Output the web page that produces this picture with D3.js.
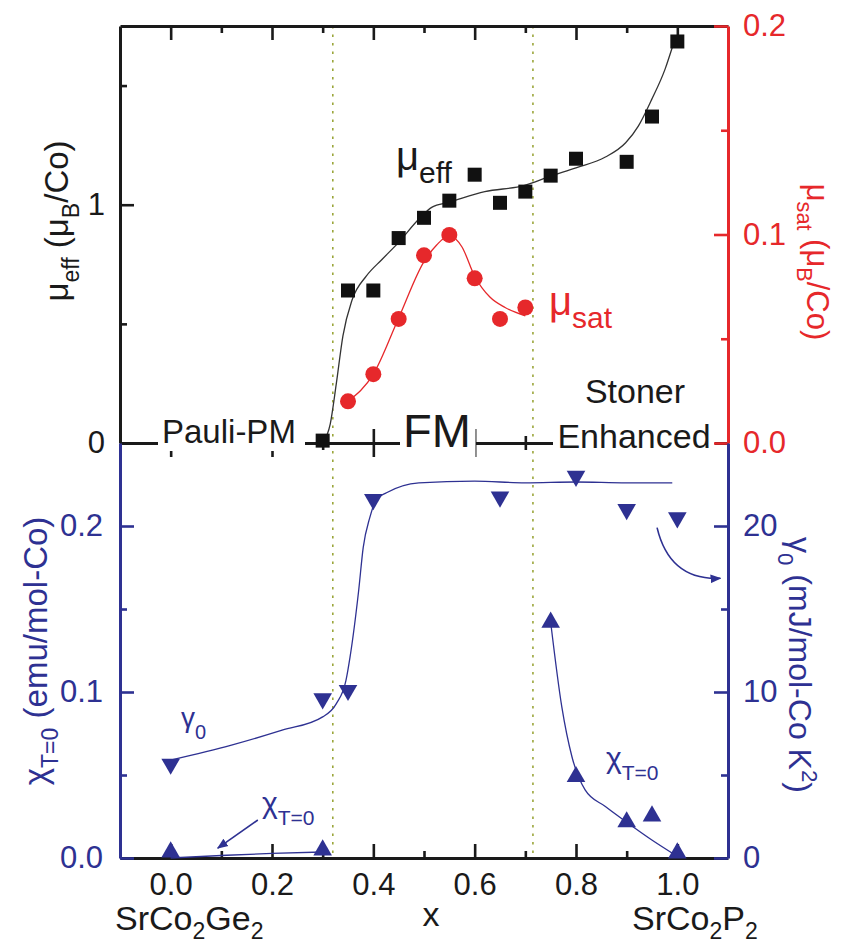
<!DOCTYPE html>
<html>
<head>
<meta charset="utf-8">
<script src="https://cdn.jsdelivr.net/npm/d3@7"></script>
<style>
body { margin: 0; background: #fff; }
text { font-family: "Liberation Sans", Arial, sans-serif; }
</style>
</head>
<body>
<svg id="chart" width="841" height="948"></svg>
<script>
// ---- data ----
// mu_eff (black squares), left axis of top panel
const effX = [0.3, 0.35, 0.4, 0.45, 0.5, 0.55, 0.6, 0.65, 0.7, 0.75, 0.8, 0.9, 0.95, 1.0];
const effY = [0.01, 0.64, 0.64, 0.86, 0.945, 1.017, 1.126, 1.008, 1.055, 1.122, 1.193, 1.18, 1.37, 1.685];
// guide line through mu_eff
const effFitX = [0.3, 0.315, 0.327, 0.34, 0.358, 0.386, 0.417, 0.449, 0.49, 0.516, 0.549, 0.62, 0.697, 0.75, 0.8, 0.858, 0.898, 0.923, 0.949, 0.976, 0.99];
const effFitY = [0.0, 0.08, 0.25, 0.45, 0.60, 0.70, 0.77, 0.84, 0.94, 0.99, 1.01, 1.055, 1.08, 1.12, 1.155, 1.20, 1.26, 1.33, 1.44, 1.57, 1.66];

// mu_sat (red circles), right axis of top panel
const satX = [0.35, 0.4, 0.45, 0.5, 0.55, 0.6, 0.65, 0.7];
const satY = [0.020, 0.033, 0.0595, 0.090, 0.0998, 0.079, 0.0595, 0.065];
const satFitX = [0.35, 0.4, 0.45, 0.5, 0.525, 0.55, 0.575, 0.6, 0.63, 0.66, 0.7];
const satFitY = [0.020, 0.033, 0.060, 0.087, 0.095, 0.0995, 0.094, 0.080, 0.070, 0.065, 0.061];

// gamma_0 (down triangles), right axis of bottom panel
const gamX = [0.0, 0.3, 0.35, 0.4, 0.65, 0.8, 0.9, 1.0];
const gamY = [5.66, 9.6, 10.1, 21.6, 21.75, 23.0, 21.0, 20.5];
const gamFitX = [0.0, 0.12, 0.22, 0.30, 0.327, 0.346, 0.354, 0.371, 0.38, 0.393, 0.406, 0.426, 0.49, 0.6, 0.7, 0.8, 0.9, 0.99];
const gamFitY = [5.9, 6.8, 7.7, 8.5, 9.3, 10.7, 12.1, 16.1, 18.7, 20.5, 21.6, 22.0, 22.6, 22.7, 22.6, 22.65, 22.6, 22.6];

// chi_T=0 (up triangles), left axis of bottom panel
const chiX = [0.0, 0.3, 0.75, 0.8, 0.9, 0.95, 1.0];
const chiY = [0.0036, 0.0048, 0.142, 0.049, 0.0217, 0.0253, 0.0030];
const chiFitLowX = [0.0, 0.1, 0.2, 0.3];
const chiFitLowY = [0.0, 0.0015, 0.0028, 0.0036];
const chiFitHighX = [0.75, 0.772, 0.792, 0.818, 0.858, 0.898, 0.949, 1.0];
const chiFitHighY = [0.142, 0.091, 0.061, 0.041, 0.031, 0.022, 0.011, 0.001];

// phase boundaries (dotted lines)
const boundaries = [0.32, 0.715];

// ticks
const xMajor = [0, 0.2, 0.4, 0.6, 0.8, 1.0];
const xMinor = [0.1, 0.3, 0.5, 0.7, 0.9];
const effMajor = [0, 1], effMinor = [0.5, 1.5];
const satMajor = [0, 0.1, 0.2], satMinor = [0.05, 0.15];
const chiMajor = [0, 0.1, 0.2], chiMinor = [0.05, 0.15];
const gamMajor = [0, 10, 20], gamMinor = [5, 15];

// ---- layout ----
const L = 120, R = 728, T = 26, M = 443, B = 858;
const BLACK = "#1a1a1a", RED = "#e6282b", BLUE = "#2e3192", OLIVE = "#9aa63a";

const svg = d3.select("#chart");
const x = d3.scaleLinear([-0.1, 1.1], [L, R]);
const yEff = d3.scaleLinear([0, 1.75], [M, T]);
const ySat = d3.scaleLinear([0, 0.2], [M, T]);
const yChi = d3.scaleLinear([0, 0.25], [B, M]);
const yGam = d3.scaleLinear([0, 25], [B, M]);

function styleAxis(g, color, fs) {
  g.select(".domain").attr("stroke", color).attr("stroke-width", 3);
  g.selectAll(".tick line").attr("stroke", color).attr("stroke-width", 2.6);
  g.selectAll(".tick text").attr("fill", color).style("font-size", fs + "px")
    .style("font-family", "Liberation Sans, Arial, sans-serif");
}

function addAxis(axisFn, scale, major, minor, tx, ty, color, fmt, pad) {
  const g = svg.append("g").attr("transform", `translate(${tx},${ty})`);
  g.call(axisFn(scale).tickValues(minor).tickSize(-7).tickSizeOuter(0).tickFormat(""));
  g.select(".domain").remove();
  g.selectAll(".tick line").attr("stroke", color).attr("stroke-width", 2.6);
  const g2 = svg.append("g").attr("transform", `translate(${tx},${ty})`);
  g2.call(axisFn(scale).tickValues(major).tickSize(-14).tickSizeOuter(0)
    .tickPadding(pad || 14).tickFormat(fmt || ""));
  styleAxis(g2, color, 31);
  return g2;
}

// dotted phase boundaries
svg.append("g").selectAll("line").data(boundaries).join("line")
  .attr("x1", d => x(d)).attr("x2", d => x(d)).attr("y1", T).attr("y2", B)
  .attr("stroke", OLIVE).attr("stroke-width", 1.6).attr("stroke-dasharray", "2.5,6");

// x axes
addAxis(d3.axisTop, x, xMajor, xMinor, 0, T, BLACK);       // top of upper panel (ticks point down)
addAxis(d3.axisBottom, x, xMajor, xMinor, 0, M, BLACK);    // bottom of upper panel
addAxis(d3.axisTop, x, xMajor, xMinor, 0, M, BLACK);       // top of lower panel
addAxis(d3.axisBottom, x, xMajor, xMinor, 0, B, BLACK, d3.format(".1f"), 15);

// text boxes sitting on the middle axis
const phaseBoxes = [[158, 305, 415, 451], [400, 475.5, 410, 458], [553, 715, 415, 458]];
svg.append("g").selectAll("rect").data(phaseBoxes).join("rect")
  .attr("x", d => d[0]).attr("width", d => d[1] - d[0])
  .attr("y", d => d[2]).attr("height", d => d[3] - d[2]).attr("fill", "#fff");

// y axes
addAxis(d3.axisLeft, yEff, effMajor, effMinor, L, 0, BLACK, d3.format("d"), 15);
addAxis(d3.axisRight, ySat, satMajor, satMinor, R, 0, RED, d3.format(".1f"), 15);
addAxis(d3.axisLeft, yChi, chiMajor, chiMinor, L, 0, BLUE, d3.format(".1f"), 17);
addAxis(d3.axisRight, yGam, gamMajor, gamMinor, R, 0, BLUE, d3.format("d"), 15);

// ---- fit lines ----
const line = d3.line().curve(d3.curveMonotoneX);
function fit(xs, ys, yScale, color) {
  svg.append("path")
    .attr("d", line(xs.map((v, i) => [x(v), yScale(ys[i])])))
    .attr("fill", "none").attr("stroke", color).attr("stroke-width", 1.3);
}
fit(effFitX, effFitY, yEff, "#333");
fit(satFitX, satFitY, ySat, RED);
fit(gamFitX, gamFitY, yGam, BLUE);
fit(chiFitLowX, chiFitLowY, yChi, BLUE);
fit(chiFitHighX, chiFitHighY, yChi, BLUE);

// ---- markers ----
svg.append("g").selectAll("rect").data(effX).join("rect")
  .attr("x", d => x(d) - 7).attr("y", (d, i) => yEff(effY[i]) - 7)
  .attr("width", 14).attr("height", 14).attr("fill", "#111");

svg.append("g").selectAll("circle").data(satX).join("circle")
  .attr("cx", d => x(d)).attr("cy", (d, i) => ySat(satY[i])).attr("r", 8)
  .attr("fill", RED);

const tri = d3.symbol().type(d3.symbolTriangle).size(150);
svg.append("g").selectAll("path").data(gamX).join("path")
  .attr("d", tri)
  .attr("transform", (d, i) => `translate(${x(d)},${yGam(gamY[i])}) rotate(180)`)
  .attr("fill", BLUE);
svg.append("g").selectAll("path").data(chiX).join("path")
  .attr("d", tri)
  .attr("transform", (d, i) => `translate(${x(d)},${yChi(chiY[i])})`)
  .attr("fill", BLUE);

// ---- arrows ----
const defs = svg.append("defs");
defs.append("marker").attr("id", "head").attr("viewBox", "0 0 10 10")
  .attr("refX", 9).attr("refY", 5).attr("markerWidth", 11).attr("markerHeight", 11)
  .attr("markerUnits", "userSpaceOnUse").attr("orient", "auto")
  .append("path").attr("d", "M0,1 L10,5 L0,9 Z").attr("fill", BLUE);

svg.append("path")
  .attr("d", `M${x(0.172)},${yChi(0.0229)} L${x(0.093)},${yChi(0.006)}`)
  .attr("stroke", BLUE).attr("stroke-width", 1.6).attr("fill", "none")
  .attr("marker-end", "url(#head)");
svg.append("path")
  .attr("d", `M${x(0.96)},${yGam(19.9)} Q${x(0.985)},${yGam(16.7)} ${x(1.085)},${yGam(16.85)}`)
  .attr("stroke", BLUE).attr("stroke-width", 1.6).attr("fill", "none")
  .attr("marker-end", "url(#head)");

// ---- text helpers ----
function rich(sel, parts, size) {
  let off = 0;
  parts.forEach(p => {
    const [t, kind, s, shift] = p;
    const target = kind === "sub" ? (shift || size * 0.33) : kind === "sup" ? -size * 0.4 : 0;
    sel.append("tspan").attr("dy", target - off)
      .style("font-size", (s || (kind ? size * 0.7 : size)) + "px").text(t);
    off = target;
  });
  return sel;
}
function label(px, py, rot, color, parts, size, anchor) {
  const t = svg.append("text")
    .attr("transform", `translate(${px},${py}) rotate(${rot})`)
    .attr("text-anchor", anchor || "middle").attr("fill", color);
  return rich(t, parts, size);
}

// axis titles
label(68, 221, -90, BLACK, [["μ"], ["eff", "sub"], [" (μ"], ["B", "sub"], ["/Co)"]], 33);
label(807, 262, 90, RED, [["μ"], ["sat", "sub"], [" (μ"], ["B", "sub"], ["/Co)"]], 31);
label(47, 651, -90, BLUE, [["χ"], ["T=0", "sub"], [" (emu/mol-Co)"]], 33);
label(789, 665, 90, BLUE, [["γ"], ["0", "sub"], [" (mJ/mol-Co K"], ["2", "sup"], [")"]], 32);

// x labels
label(115, 930, 0, BLACK, [["SrCo"], ["2", "sub", 23, 9], ["Ge"], ["2", "sub", 23, 9]], 34, "start");
label(431, 926, 0, BLACK, [["x"]], 34);
label(632, 930, 0, BLACK, [["SrCo"], ["2", "sub", 23, 9], ["P"], ["2", "sub", 23, 9]], 34, "start");

// phase labels
label(162, 443, 0, BLACK, [["Pauli-PM"]], 33, "start");
label(403, 447, 0, BLACK, [["FM"]], 47, "start");
label(635, 403, 0, BLACK, [["Stoner"]], 34);
label(634, 448, 0, BLACK, [["Enhanced"]], 34);

// series annotations
label(396, 170, 0, BLACK, [["μ", null, 40], ["eff", "sub", 30]], 40, "start");
label(549, 315, 0, RED, [["μ", null, 40], ["sat", "sub", 30]], 40, "start");
label(181, 727, 0, BLUE, [["γ", null, 28], ["0", "sub", 20]], 36, "start");
label(262, 813, 0, BLUE, [["χ", null, 30], ["T=0", "sub", 21]], 36, "start");
label(606, 768, 0, BLUE, [["χ", null, 30], ["T=0", "sub", 21]], 36, "start");
</script>
</body>
</html>
